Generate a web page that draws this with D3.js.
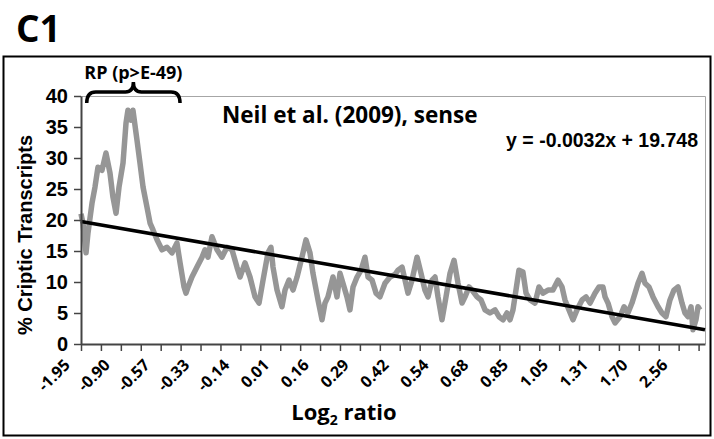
<!DOCTYPE html>
<html>
<head>
<meta charset="utf-8">
<script src="https://cdn.jsdelivr.net/npm/d3@7"></script>
<style>
  body{margin:0;background:#fff;}
  text{font-weight:700;}
</style>
</head>
<body>
<div id="main"></div>
<script>
// genes ranked by log2 ratio (index) vs sliding-window % cryptic transcripts
let rankIdx = [
  0,17,44,61,96,122,148,183,218,253,279,306,332,367,393,410,437,454,489,515,542,576,603,629,664,707,751,795,838,865,900,917,
  935,969,1013,1057,1083,1109,1144,1188,1231,1275,1319,1362,1389,1432,1476,1520,1555,1590,1633,1659,1677,1712,1755,1782,1817,
  1852,1887,1930,1965,2000,2026,2070,2105,2131,2157,2201,2236,2262,2288,2323,2349,2376,2411,2446,2480,2507,2542,2577,2611,2655,2699,2742,
  2769,2804,2830,2856,2891,2935,2970,3004,3031,3066,3092,3118,3153,3188,3223,3258,3293,3328,3354,3389,3415,3459,3494,3529,3572,3616,3651,
  3686,3721,3747,3773,3808,3825,3860,3887,3922,3965,4000,4035,4079,4122,4166,4201,4227,4262,4297,4332,4376,4411,4446,4489,4524,4559,
  4577,4603,4638,4664,4708,4743,4777,4812,4839,4865,4900,4926,4961,4996,5040,5074,5109,5144,5179,5214,5249,5275,5302,5328,5345,5371,5389,5406
];
let pctCryptic = [
  21.0,19.5,14.7,17.9,22.7,25.3,28.5,28.0,30.8,27.6,23.7,21.1,25.3,29.2,35.6,37.7,36.1,37.7,32.9,29.2,25.3,22.1,19.5,18.4,16.8,15.2,15.6,14.7,16.3,13.1,9.2,8.2,
  9.2,10.8,12.4,14.0,15.2,14.0,17.3,15.2,14.0,15.6,15.2,12.4,10.8,13.1,10.8,7.6,6.6,10.3,14.7,15.6,12.4,8.7,6.0,8.7,10.3,
  8.7,10.8,14.0,16.8,14.7,11.4,7.1,3.9,6.6,7.6,10.8,7.6,11.4,9.8,7.6,5.5,9.2,10.8,11.9,14.0,10.8,10.3,8.2,7.6,9.8,10.8,11.2,
  11.9,12.4,10.3,8.2,10.3,14.0,11.4,8.7,7.6,10.3,10.8,7.6,3.9,7.6,11.4,13.5,9.8,6.6,7.6,9.2,8.7,7.6,7.1,5.5,5.0,5.5,4.4,
  3.9,5.0,3.9,5.5,9.8,11.9,11.6,8.2,7.1,6.6,9.2,8.2,8.7,8.7,10.3,9.2,7.1,5.5,3.9,5.5,7.1,7.6,6.6,8.2,9.2,9.2,
  7.6,6.6,4.4,3.4,4.4,6.0,5.0,6.6,8.2,9.8,11.4,9.8,9.2,7.6,6.0,5.0,4.4,7.1,8.7,9.2,6.6,5.0,4.4,6.0,2.3,3.9,6.0,5.5
];
let xLabels = ['-1.95','-0.90','-0.57','-0.33','-0.14','0.01','0.16','0.29','0.42','0.54','0.68','0.85','1.05','1.31','1.70','2.56'];
let yTicks = [0,5,10,15,20,25,30,35,40];
let nGenes = 5450;
let tickStep = 174;
let rpRange = [50, 865]; // ribosomal protein genes
let trendSlope = -0.0032, trendIntercept = 19.748;

let calibri = '"Open Sans", Lato, sans-serif';
let arial = '"Liberation Sans", Arial, sans-serif';

let [W,H] = [714,439];
let svg = d3.select('#main').append('svg')
  .attr('width', W).attr('height', H)
  .style('background', '#fff');

let m = {left:81, right:705, top:96, bottom:344};
let sx = d3.scaleLinear().domain([0, nGenes]).range([m.left, m.right]);
let sy = d3.scaleLinear().domain([0, 40]).range([m.bottom, m.top]);

// outer frame + panel label
svg.append('rect')
  .attr('x', 3.5).attr('y', 56.5).attr('width', 707).attr('height', 379)
  .attr('fill', 'none').attr('stroke', '#000').attr('stroke-width', 2);
svg.append('text').attr('x', 16).attr('y', 42)
  .style('font-family', calibri).style('font-size', '37px').text('C1');

// plot area border (top/right)
svg.append('path')
  .attr('d', `M${m.left},${m.top + 0.5}H${m.right + 0.5}V${m.bottom}`)
  .attr('fill', 'none').attr('stroke', '#a6a6a6').attr('stroke-width', 1);

// data line
let line = d3.line().x(d=>sx(d[0])).y(d=>sy(d[1]));
svg.append('path')
  .datum(rankIdx.map((r,i)=>[r, pctCryptic[i]]))
  .attr('d', line)
  .attr('fill', 'none').attr('stroke', '#969696').attr('stroke-width', 5.5)
  .attr('stroke-linejoin', 'round');

// linear trendline
svg.append('path')
  .datum([0, nGenes].map(x=>[x, trendIntercept + trendSlope * x]))
  .attr('d', line)
  .attr('fill', 'none').attr('stroke', '#000').attr('stroke-width', 3.5);

// y axis
let gy = svg.append('g').attr('transform', `translate(${m.left},0)`)
  .call(d3.axisLeft(sy).tickValues(yTicks).tickSize(7).tickPadding(6).tickSizeOuter(0));
gy.select('.domain').attr('stroke', '#444').attr('stroke-width', 2);
gy.selectAll('.tick line').attr('stroke', '#444').attr('stroke-width', 1.5);
gy.selectAll('.tick text').style('font-family', arial).style('font-size', '20px').attr('fill', '#000');

// x axis
let xt = d3.range(0, nGenes, tickStep);
let gx = svg.append('g').attr('transform', `translate(0,${m.bottom})`)
  .call(d3.axisBottom(sx).tickValues(xt).tickSize(7).tickFormat('').tickSizeOuter(0));
gx.select('.domain').attr('stroke', '#444').attr('stroke-width', 2);
gx.selectAll('.tick line').attr('stroke', '#444').attr('stroke-width', 1.5);

svg.append('g').selectAll('text')
  .data(xLabels)
  .join('text')
  .attr('transform', (d,i)=>`translate(${sx(xt[i*2]) - 10},${m.bottom + 22}) rotate(-45)`)
  .attr('text-anchor', 'end')
  .style('font-family', calibri).style('font-size', '16px')
  .text(d=>d);

// axis titles
svg.append('text')
  .attr('transform', `translate(32,235) rotate(-90)`)
  .attr('text-anchor', 'middle')
  .style('font-family', arial).style('font-size', '20px')
  .text('% Criptic Transcripts');

let xt2 = svg.append('text')
  .attr('x', 344).attr('y', 420).attr('text-anchor', 'middle')
  .style('font-family', calibri).style('font-size', '22px');
xt2.append('tspan').text('Log');
xt2.append('tspan').attr('dy', 5).style('font-size', '14px').text('2');
xt2.append('tspan').attr('dy', -5).text(' ratio');

// annotations
svg.append('text').attr('x', 222).attr('y', 123)
  .style('font-family', calibri).style('font-size', '22.5px')
  .text('Neil et al. (2009), sense');
svg.append('text').attr('x', 698).attr('y', 147).attr('text-anchor', 'end')
  .style('font-family', arial).style('font-size', '19.5px')
  .text('y = -0.0032x + 19.748');

// RP bracket
let [b0, b1] = rpRange.map(sx);
let bm = (b0 + b1) / 2;
svg.append('path')
  .attr('d', `M${b0},103 Q${b0},92 ${b0+9},92 L${bm-8},92 Q${bm},92 ${bm},82 Q${bm},92 ${bm+8},92 L${b1-9},92 Q${b1},92 ${b1},103`)
  .attr('fill', 'none').attr('stroke', '#000').attr('stroke-width', 3.5);
svg.append('text').attr('x', bm).attr('y', 79).attr('text-anchor', 'middle')
  .style('font-family', calibri).style('font-size', '18px')
  .text('RP (p>E-49)');
</script>
</body>
</html>
